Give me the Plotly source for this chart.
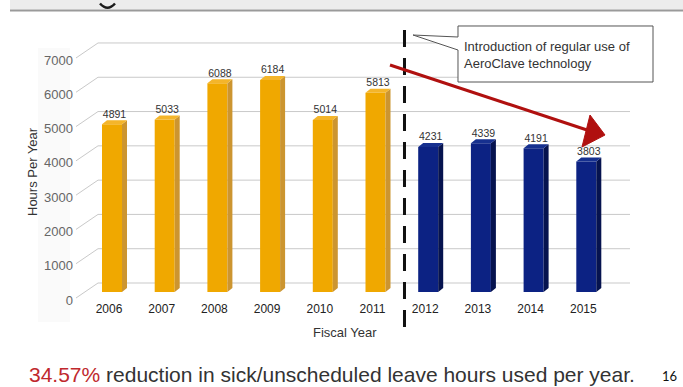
import plotly.graph_objects as go

# ---- data -------------------------------------------------------------
years = [2006, 2007, 2008, 2009, 2010, 2011, 2012, 2013, 2014, 2015]
hours = [4891, 5033, 6088, 6184, 5014, 5813, 4231, 4339, 4191, 3803]
split_year = 2011          # last year before AeroClave use
y_ticks = [0, 1000, 2000, 3000, 4000, 5000, 6000, 7000]
callout_lines = ["Introduction of regular use of", "AeroClave technology"]
reduction_pct = "34.57%"
reduction_text = " reduction in sick/unscheduled leave hours used per year."
page_number = "16"

# ---- geometry (pixels) ------------------------------------------------
W, H = 683, 387
PX_FIRST = 112.0        # centre of first bar front face
PX_STEP = 52.7          # distance between bars
PX_FLOOR = 292.0        # bottom of bar front faces
K = 34.29 / 1000.0      # pixels per hour
X_LEFT, X_RIGHT = 76.0, 630.0
WALL_X = 98.0           # left edge of the back wall
WALL_DY = 9.0           # back wall sits this far above the bar plane
LABEL_DY = 8            # tick labels sit this far below the bar plane

BAR_W = 20.0 / PX_STEP
DEPTH_X = 5.0 / PX_STEP
DEPTH_Y = 4.0 / K

FONT = "Liberation Sans, Arial, sans-serif"


def data_x(px):
    return years[0] + (px - PX_FIRST) / PX_STEP


def px_y(v):
    return PX_FLOOR - v * K


def fx(px):
    return px / W


def fy(py):
    return 1 - py / H


y_top_px = px_y(y_ticks[-1])

ORANGE = dict(front="#F0A800", side="#CC9530", top="#F4B52A")
BLUE = dict(front="#0C2283", side="#06134F", top="#16308F")

fig = go.Figure()


def add_group(xs, vs, pal):
    sx, sy, tx, ty = [], [], [], []
    for x, v in zip(xs, vs):
        xl, xr = x - BAR_W / 2, x + BAR_W / 2
        sx += [xr, xr + DEPTH_X, xr + DEPTH_X, xr, xr, None]
        sy += [0, DEPTH_Y, v + DEPTH_Y, v, 0, None]
        tx += [xl, xl + DEPTH_X, xr + DEPTH_X, xr, xl, None]
        ty += [v, v + DEPTH_Y, v + DEPTH_Y, v, v, None]
    fig.add_trace(go.Scatter(x=sx, y=sy, mode="lines", fill="toself",
                             fillcolor=pal["side"], line=dict(width=0),
                             hoverinfo="skip", showlegend=False))
    fig.add_trace(go.Scatter(x=tx, y=ty, mode="lines", fill="toself",
                             fillcolor=pal["top"], line=dict(width=0),
                             hoverinfo="skip", showlegend=False))
    fig.add_trace(go.Bar(x=xs, y=vs, width=BAR_W, marker_color=pal["front"],
                         marker_line_width=0, showlegend=False))
    fig.add_trace(go.Scatter(x=[x + DEPTH_X / 2 for x in xs],
                             y=[v + DEPTH_Y for v in vs],
                             text=[str(v) for v in vs], mode="text",
                             textposition="top center",
                             textfont=dict(size=10.5, color="#333333", family=FONT),
                             cliponaxis=False, showlegend=False,
                             hoverinfo="skip"))


before = [(x, v) for x, v in zip(years, hours) if x <= split_year]
after = [(x, v) for x, v in zip(years, hours) if x > split_year]
add_group([p[0] for p in before], [p[1] for p in before], ORANGE)
add_group([p[0] for p in after], [p[1] for p in after], BLUE)

shapes = []
# top banner strip with the tail of the slide heading's letter
shapes.append(dict(type="rect", xref="paper", yref="paper",
                   x0=fx(10), x1=fx(683), y0=fy(0), y1=fy(9.5),
                   fillcolor="#ECECEC", line=dict(width=0), layer="below"))
shapes.append(dict(type="line", xref="paper", yref="paper",
                   x0=fx(10), x1=fx(683), y0=fy(10.5), y1=fy(10.5),
                   line=dict(color="#9A9A9A", width=2)))
shapes.append(dict(type="path", xref="paper", yref="paper",
                   path=f"M {fx(100)},{fy(3.5)} Q {fx(107.5)},{fy(12)} {fx(115)},{fy(3.5)}",
                   line=dict(color="#1A1A1A", width=2.5)))
# faint panel behind the value axis labels
shapes.append(dict(type="rect", xref="paper", yref="paper",
                   x0=fx(38), x1=fx(70), y0=fy(48), y1=fy(322),
                   fillcolor="#FAFAFA", line=dict(width=0), layer="below"))

# back-wall gridlines with perspective connectors to the labels
for v in y_ticks:
    gy = px_y(v) - WALL_DY
    shapes.append(dict(type="line", xref="paper", yref="paper",
                       x0=fx(WALL_X), x1=fx(X_RIGHT), y0=fy(gy), y1=fy(gy),
                       line=dict(color="#C9C9C9", width=1), layer="below"))
    shapes.append(dict(type="line", xref="paper", yref="paper",
                       x0=fx(X_LEFT), x1=fx(WALL_X),
                       y0=fy(px_y(v) + LABEL_DY - 2), y1=fy(gy),
                       line=dict(color="#C9C9C9", width=1), layer="below"))

# separator between the two periods
sep_x = split_year + 0.55
shapes.append(dict(type="line", xref="x", yref="paper",
                   x0=sep_x, x1=sep_x, y0=fy(30), y1=fy(336),
                   line=dict(color="#111111", width=3, dash="17px,11px")))

# callout box with pointer
cb = [(458, 26), (653, 26), (653, 82), (458, 82), (458, 50), (413, 35), (458, 37)]
path = "M " + " L ".join(f"{fx(a):.5f},{fy(b):.5f}" for a, b in cb) + " Z"
shapes.append(dict(type="path", xref="paper", yref="paper", path=path,
                   fillcolor="white", line=dict(color="#555555", width=1)))

# downward trend arrow
RED = "#B0100F"
shapes.append(dict(type="line", xref="paper", yref="paper",
                   x0=fx(390), y0=fy(65), x1=fx(587), y1=fy(130),
                   line=dict(color=RED, width=3)))
head = [(605, 135), (590, 115), (582, 147)]
hp = "M " + " L ".join(f"{fx(a):.5f},{fy(b):.5f}" for a, b in head) + " Z"
shapes.append(dict(type="path", xref="paper", yref="paper", path=hp,
                   fillcolor=RED, line=dict(color=RED, width=1)))

annotations = [
    dict(text="<br>".join(callout_lines), xref="paper", yref="paper",
         x=fx(462), y=fy(55), xanchor="left", yanchor="middle", align="left",
         showarrow=False, font=dict(size=13, color="#333333", family=FONT)),
    dict(text="Hours Per Year", xref="paper", yref="paper", x=fx(32), y=fy(172),
         xanchor="center", yanchor="middle",
         textangle=-90, showarrow=False,
         font=dict(size=13, color="#333333", family=FONT)),
    dict(text="Fiscal Year", xref="paper", yref="paper", x=fx(345), y=fy(332),
         xanchor="center", yanchor="middle", showarrow=False,
         font=dict(size=13, color="#333333", family=FONT)),
    dict(text=f"<span style='color:#C0282D'>{reduction_pct}</span>{reduction_text}",
         xref="paper", yref="paper", x=fx(27), y=fy(374), xanchor="left",
         yanchor="middle", showarrow=False,
         font=dict(size=21, color="#333333", family=FONT)),
    dict(text=page_number, xref="paper", yref="paper", x=fx(679), y=fy(376),
         xanchor="right", yanchor="middle", showarrow=False,
         font=dict(size=13, color="#111111", family="Lato, sans-serif")),
]

fig.update_layout(
    width=W, height=H, margin=dict(l=0, r=0, t=0, b=0, autoexpand=False),
    paper_bgcolor="white", plot_bgcolor="rgba(0,0,0,0)",
    barmode="overlay", showlegend=False,
    shapes=shapes, annotations=annotations,
    xaxis=dict(domain=[fx(X_LEFT), fx(X_RIGHT)],
               range=[data_x(X_LEFT), data_x(X_RIGHT)],
               tickvals=years, ticktext=[str(y) for y in years],
               tickfont=dict(size=12, color="#222222", family=FONT),
               ticks="", showgrid=False, zeroline=False, showline=False,
               ticklabelstandoff=8, ticklabelshift=-3, automargin=False),
    yaxis=dict(domain=[fy(PX_FLOOR), fy(y_top_px)],
               range=[y_ticks[0], y_ticks[-1]],
               tickvals=y_ticks, ticktext=[str(v) for v in y_ticks],
               tickfont=dict(size=13, color="#666666", family=FONT),
               ticks="", showgrid=False, zeroline=False, showline=False,
               ticklabelshift=LABEL_DY, ticklabelstandoff=2, automargin=False),
)

fig.write_html("out.html")
